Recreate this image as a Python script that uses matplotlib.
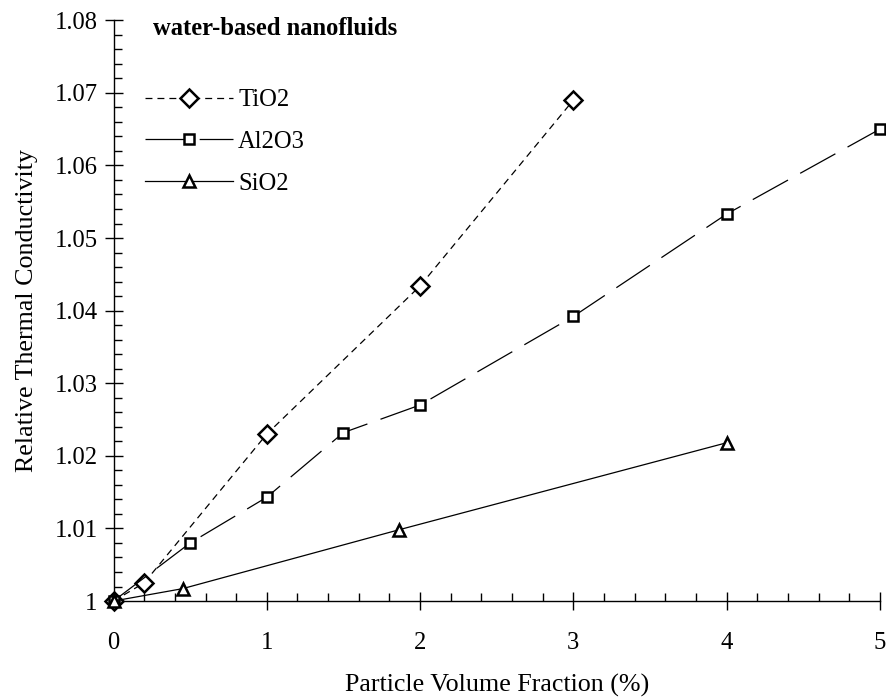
#!/usr/bin/env python3
"""Relative thermal conductivity of water-based nanofluids vs particle loading."""

import matplotlib
matplotlib.use("Agg")
import matplotlib.pyplot as plt
from matplotlib.ticker import MultipleLocator, FuncFormatter

# volume fraction (%) and relative conductivity k_nf / k_water
tio2_x = [0, 0.2, 1, 2, 3]
tio2_y = [1.0, 1.0025, 1.0230, 1.0434, 1.0690]

al2o3_x = [0, 0.5, 1, 1.5, 2, 3, 4, 5]
al2o3_y = [1.0, 1.0080, 1.0143, 1.0232, 1.0270, 1.0392, 1.0533, 1.0650]

sio2_x = [0, 0.45, 1.86, 4]
sio2_y = [1.0, 1.0017, 1.0098, 1.0218]

plt.rcParams["font.family"] = ["Liberation Serif", "DejaVu Serif"]
plt.rcParams["lines.scale_dashes"] = False

FS = 17.7        # ticks, legend, title
FS_LABEL = 18.7  # axis titles

fig = plt.figure(figsize=(8.87, 7.0), dpi=100)
ax = fig.add_axes([0.128, 0.1414, 0.864, 0.8297])

mk = dict(markerfacecolor="white", markeredgecolor="black",
          markeredgewidth=1.8, clip_on=False, zorder=3)

ax.plot(tio2_x, tio2_y, color="black", lw=0.9, dashes=(5, 3.6),
        marker="D", markersize=9, label="TiO2", **mk)
ax.plot(al2o3_x, al2o3_y, color="black", lw=0.9, dashes=(29, 10),
        marker="s", markersize=7.8, label="Al2O3", **mk)
ax.plot(sio2_x, sio2_y, color="black", lw=0.9, linestyle="-",
        marker="^", markersize=9, label="SiO2", **mk)

ax.set_xlim(0, 5)
ax.set_ylim(1.0, 1.08)
ax.xaxis.set_major_locator(MultipleLocator(1))
ax.xaxis.set_minor_locator(MultipleLocator(0.2))
ax.yaxis.set_major_locator(MultipleLocator(0.01))
ax.yaxis.set_minor_locator(MultipleLocator(0.002))
ax.yaxis.set_major_formatter(FuncFormatter(lambda v, p: f"{v:.2f}".rstrip("0").rstrip(".")))

for side in ("top", "right"):
    ax.spines[side].set_visible(False)
for side in ("left", "bottom"):
    ax.spines[side].set_linewidth(1.0)

ax.tick_params(which="major", direction="inout", length=13, width=1.0,
               labelsize=FS, pad=5)
ax.tick_params(which="minor", direction="in", length=6, width=1.0)
ax.tick_params(axis="x", which="major", pad=16)

ax.set_xlabel("Particle Volume Fraction (%)", fontsize=FS_LABEL, labelpad=14)
ax.set_ylabel("Relative Thermal Conductivity", fontsize=FS_LABEL, labelpad=12)

ax.text(0.051, 0.985, "water-based nanofluids", transform=ax.transAxes,
        fontsize=FS, fontweight="bold", va="center", ha="left")

ax.legend(loc="upper left", bbox_to_anchor=(0.028, 0.8985), frameon=False,
          fontsize=FS, handlelength=3.6, handletextpad=0.2,
          labelspacing=0.8, borderaxespad=0)

fig.savefig("out.png", dpi=100)
